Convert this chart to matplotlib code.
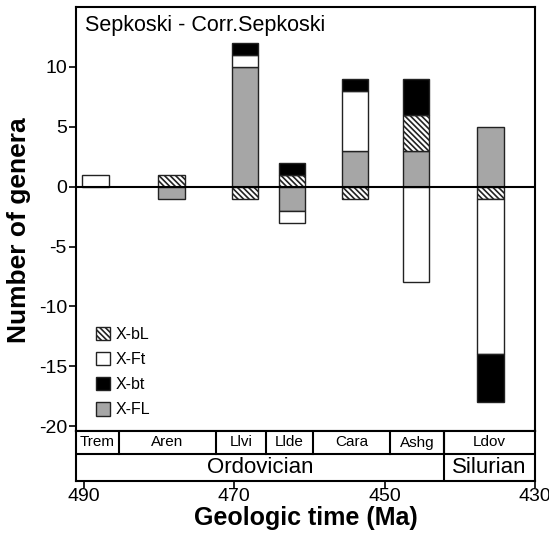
import matplotlib
matplotlib.use('Agg')
import matplotlib.pyplot as plt
from matplotlib.patches import Patch
import numpy as np

plt.rcParams['font.family'] = ['Liberation Sans', 'DejaVu Sans']
plt.rcParams['hatch.linewidth'] = 1.2
plt.rcParams['axes.unicode_minus'] = False

# ---- data ----
stages = ['Trem', 'Aren', 'Llvi', 'Llde', 'Cara', 'Ashg', 'Ldov']
stage_bounds = [491, 485.3, 472.4, 465.8, 459.5, 449.3, 442.1, 430]
periods = ['Ordovician', 'Silurian']
period_bounds = [491, 442.1, 430]
bar_ma = [488.4, 478.3, 468.5, 462.3, 453.9, 445.8, 435.9]

pos_FL = [0, 0, 10, 0, 3, 3, 5]
pos_bL = [0, 1, 0, 1, 0, 3, 0]
pos_Ft = [1, 0, 1, 0, 5, 0, 0]
pos_bt = [0, 0, 1, 1, 1, 3, 0]

neg_bL = [0, 0, 1, 0, 1, 0, 1]
neg_FL = [0, 1, 0, 2, 0, 0, 0]
neg_Ft = [0, 0, 0, 1, 0, 8, 13]
neg_bt = [0, 0, 0, 0, 0, 0, 4]

series_names = {'bL': 'X-bL', 'Ft': 'X-Ft', 'bt': 'X-bt', 'FL': 'X-FL'}
xticks = [490, 470, 450, 430]
yticks = [-20, -15, -10, -5, 0, 5, 10]

# ---- figure ----
W, H = 549, 536
fig = plt.figure(figsize=(W / 100, H / 100), dpi=100)
ax = fig.add_axes([76 / W, 1 - 431 / H, 459 / W, 424 / H])
axb = fig.add_axes([76 / W, 1 - 481 / H, 459 / W, 50 / H])

EDGE = '#222222'
styles = {
    'bL': dict(facecolor='white', hatch='\\\\\\\\\\\\'),
    'Ft': dict(facecolor='white'),
    'bt': dict(facecolor='black'),
    'FL': dict(facecolor='#a6a6a6'),
}


def stack(series_list, sign):
    x = np.array(bar_ma, float)
    base = np.zeros(len(x))
    for key, vals in series_list:
        vals = np.array(vals, float)
        m = vals > 0
        if m.any():
            ax.bar(x[m], sign * vals[m], width=3.5, bottom=base[m],
                   edgecolor=EDGE, linewidth=1.0, zorder=2, **styles[key])
        base = base + sign * vals


stack([('FL', pos_FL), ('bL', pos_bL), ('Ft', pos_Ft), ('bt', pos_bt)], 1)
stack([('bL', neg_bL), ('FL', neg_FL), ('Ft', neg_Ft), ('bt', neg_bt)], -1)

ax.axhline(0, color='black', lw=1.5, zorder=3)
ax.set_xlim(491, 430)
ax.set_ylim(-20.4, 15)
ax.set_xticks([])
ax.set_yticks(yticks)
ax.tick_params(axis='y', direction='out', length=5, width=1.2, labelsize=14, pad=1.5)
for s in ax.spines.values():
    s.set_linewidth(1.5)
ax.set_ylabel('Number of genera', fontsize=19, fontweight='bold')
ax.yaxis.set_label_coords(-0.097, 0.474)

ax.text(0.0196, 0.981, 'Sepkoski - Corr.Sepkoski', transform=ax.transAxes,
        va='top', ha='left', fontsize=15.5)

handles = [Patch(edgecolor=EDGE, linewidth=1.0, label=series_names[k], **styles[k])
           for k in ['bL', 'Ft', 'bt', 'FL']]
ax.legend(handles=handles, loc='upper left', bbox_to_anchor=(0.043, 0.245),
          frameon=False, fontsize=11.5, handlelength=0.9, handleheight=0.9,
          handletextpad=0.35, labelspacing=0.62, borderpad=0, borderaxespad=0)

# ---- time scale ----
axb.set_xlim(491, 430)
axb.set_ylim(0, 50)
axb.axhline(27, color='black', lw=1.5)
for b in stage_bounds[1:-1]:
    axb.plot([b, b], [27, 50], color='black', lw=1.5)
for b in period_bounds[1:-1]:
    axb.plot([b, b], [0, 50], color='black', lw=1.5)
for i, nm in enumerate(stages):
    axb.text((stage_bounds[i] + stage_bounds[i + 1]) / 2, 38.5, nm,
             ha='center', va='center', fontsize=11)
for i, nm in enumerate(periods):
    axb.text((period_bounds[i] + period_bounds[i + 1]) / 2, 13.5, nm,
             ha='center', va='center', fontsize=16)
axb.set_yticks([])
axb.set_xticks(xticks)
axb.tick_params(axis='x', direction='out', length=5, width=1.2, labelsize=14, pad=0)
for s in axb.spines.values():
    s.set_linewidth(1.5)
axb.set_xlabel('Geologic time (Ma)', fontsize=18, fontweight='bold', labelpad=1)

fig.savefig('out.png', dpi=100, facecolor='white')
